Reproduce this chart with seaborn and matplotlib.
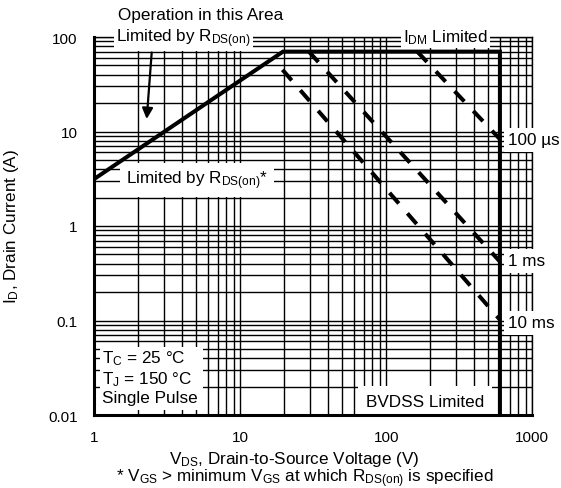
import numpy as np
import pandas as pd
import matplotlib
matplotlib.use("Agg")
import matplotlib.pyplot as plt
import seaborn as sns
from matplotlib.ticker import LogLocator, FixedLocator, FixedFormatter, NullFormatter
from matplotlib.patches import Rectangle

# ---------------- data ----------------
x_ticks = [1, 10, 100, 1000]
x_tick_labels = ["1", "10", "100", "1000"]
y_ticks = [0.01, 0.1, 1, 10, 100]
y_tick_labels = ["0.01", "0.1", "1", "10", "100"]

# R_DS(on) limit -> I_DM limit -> BVDSS limit (one polyline)
limit_vds = [1, 19.6, 600, 600]
limit_id = [3.15, 70, 70, 0.01]

pulse_labels = ["100 µs", "1 ms", "10 ms"]
pulse_100us_vds = [163, 600]
pulse_100us_id = [70, 8.3]
pulse_1ms_vds = [29.5, 600]
pulse_1ms_id = [70, 0.42]
pulse_10ms_vds = [19.45, 600]
pulse_10ms_id = [45, 0.102]

# ---------------- style ----------------
sns.set_theme(style="white")
plt.rcParams["font.family"] = ["Liberation Sans", "DejaVu Sans"]
plt.rcParams["mathtext.default"] = "regular"
plt.rcParams["text.color"] = "black"

W, H = 561, 489
L, R, T, B = 94.3, 532.3, 38.0, 416.0
fig = plt.figure(figsize=(W / 100, H / 100), dpi=100)
ax = fig.add_axes([L / W, 1 - B / H, (R - L) / W, (B - T) / H])
ax.set_xscale("log")
ax.set_yscale("log")


def axp(px, py):
    return ((px - L) / (R - L), (B - py) / (B - T))


LW = 2.9
df_limit = pd.DataFrame({"V": limit_vds, "I": limit_id})
sns.lineplot(data=df_limit, x="V", y="I", ax=ax, color="black", linewidth=LW,
             sort=False, estimator=None, solid_joinstyle="miter", zorder=4)

for v, i in [(pulse_100us_vds, pulse_100us_id),
             (pulse_1ms_vds, pulse_1ms_id),
             (pulse_10ms_vds, pulse_10ms_id)]:
    d = pd.DataFrame({"V": v, "I": i})
    sns.lineplot(data=d, x="V", y="I", ax=ax, color="black", linewidth=LW,
                 linestyle=(0, (3.5, 3.25)), sort=False, estimator=None, zorder=4)

ax.set_xlim(1, 1000)
ax.set_ylim(0.01, 100)

ax.xaxis.set_major_locator(FixedLocator(x_ticks))
ax.xaxis.set_major_formatter(FixedFormatter(x_tick_labels))
ax.yaxis.set_major_locator(FixedLocator(y_ticks))
ax.yaxis.set_major_formatter(FixedFormatter(y_tick_labels))
ax.xaxis.set_minor_locator(LogLocator(base=10, subs=np.arange(2, 10), numticks=100))
ax.yaxis.set_minor_locator(LogLocator(base=10, subs=np.arange(2, 10), numticks=100))
ax.xaxis.set_minor_formatter(NullFormatter())
ax.yaxis.set_minor_formatter(NullFormatter())

ax.set_axisbelow(True)
ax.grid(True, which="both", color="black", linewidth=1.0)
ax.tick_params(which="both", length=0, labelsize=11, colors="black")
ax.tick_params(axis="x", pad=11)
ax.tick_params(axis="y", pad=12)
ax.set_xlabel("")
ax.set_ylabel("")

for s in ["left", "bottom"]:
    ax.spines[s].set_linewidth(2.2)
    ax.spines[s].set_color("black")
    ax.spines[s].set_zorder(5)
for s in ["top", "right"]:
    ax.spines[s].set_linewidth(1.0)
    ax.spines[s].set_color("black")

FS = 12.3
box = dict(facecolor="white", edgecolor="none", pad=1.5)

ax.text(*axp(200.5, 15.5), "Operation in this Area", transform=ax.transAxes,
        ha="center", va="center", fontsize=FS, clip_on=False)
ax.text(*axp(116.5, 38.5), r"Limited by R$_{DS(on)}$", transform=ax.transAxes,
        ha="left", va="center", fontsize=FS, bbox=box, clip_on=False, zorder=3)
ax.annotate("", xy=axp(146.7, 120), xytext=axp(151.7, 53.5),
            xycoords="axes fraction", textcoords="axes fraction",
            arrowprops=dict(arrowstyle="-|>", color="black", lw=1.6,
                            mutation_scale=16, shrinkA=0, shrinkB=0), zorder=5)
ax.text(*axp(445.7, 37.5), r"I$_{DM}$ Limited", transform=ax.transAxes,
        ha="center", va="center", fontsize=FS, bbox=box, clip_on=False, zorder=3)

for lab, py in zip(pulse_labels, [141, 262, 324]):
    ax.text(*axp(508, py), lab, transform=ax.transAxes, ha="left", va="center",
            fontsize=FS, bbox=dict(facecolor="white", edgecolor="none", pad=3.0),
            clip_on=False, zorder=3)

ax.text(*axp(197, 181), r"Limited by R$_{DS(on)}$*", transform=ax.transAxes,
        ha="center", va="center", fontsize=FS,
        bbox=dict(facecolor="white", edgecolor="none", pad=4), clip_on=False, zorder=3)

x0, y0 = axp(100, 411)
x1, y1 = axp(203, 348)
ax.add_patch(Rectangle((x0, y0), x1 - x0, y1 - y0, transform=ax.transAxes,
                       facecolor="white", edgecolor="none", zorder=3))
for txt, py in zip([r"T$_C$ = 25 °C", r"T$_J$ = 150 °C", "Single Pulse"], [359, 380, 399]):
    ax.text(*axp(102, py), txt, transform=ax.transAxes, ha="left", va="center",
            fontsize=FS, zorder=3.5)

ax.text(*axp(425, 403), "BVDSS Limited", transform=ax.transAxes, ha="center",
        va="center", fontsize=FS,
        bbox=dict(facecolor="white", edgecolor="none", pad=6), clip_on=False, zorder=3)

fig.text(12 / W, 1 - 227 / H, r"I$_D$, Drain Current (A)", rotation=90,
         ha="center", va="center", fontsize=FS)
fig.text(294 / W, 1 - 460 / H, r"V$_{DS}$, Drain-to-Source Voltage (V)",
         ha="center", va="center", fontsize=FS)
fig.text(305 / W, 1 - 479 / H, r"* V$_{GS}$ > minimum V$_{GS}$ at which R$_{DS(on)}$ is specified",
         ha="center", va="center", fontsize=FS)

fig.savefig("out.png", dpi=100)
